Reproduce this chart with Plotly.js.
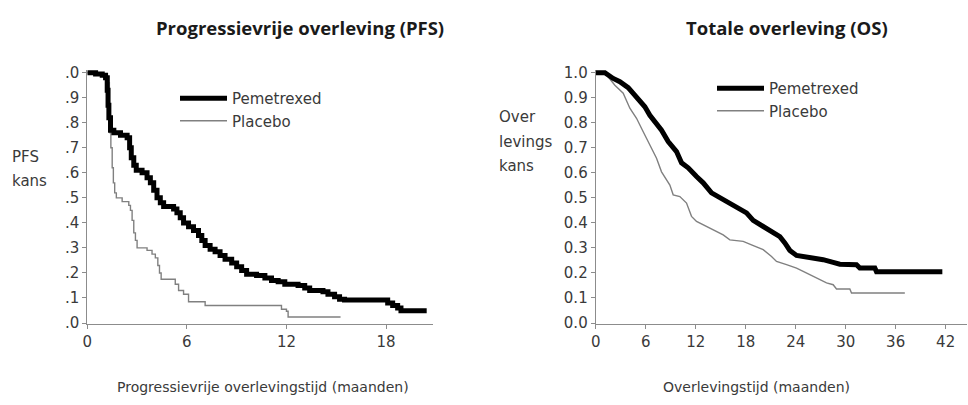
<!DOCTYPE html>
<html>
<head>
<meta charset="utf-8">
<script src="https://cdn.plot.ly/plotly-3.0.1.min.js"></script>
<style>html,body{margin:0;padding:0;background:#fff;}#chart{width:968px;height:405px;}</style>
</head>
<body>
<div id="chart"></div>
<script>
// ---- Data ----
const seriesNames = ["Pemetrexed", "Placebo"];

// Progression-free survival (months, probability) – step points
const pfsTimePem = [0, 0.5, 0.9, 1.1, 1.2, 1.25, 1.3, 1.4, 1.6, 2.0, 2.4, 2.55, 2.65, 2.8, 2.95, 3.3, 3.6, 3.8, 4.0, 4.2, 4.4, 4.6, 5.2, 5.4, 5.6, 5.8, 6.1, 6.4, 6.7, 6.9, 7.1, 7.4, 7.7, 8.0, 8.3, 8.7, 9.0, 9.3, 9.6, 10.2, 10.7, 11.1, 11.5, 11.9, 12.7, 13.1, 13.4, 14.2, 14.5, 14.9, 15.2, 15.5, 18.1, 18.4, 18.7, 18.9, 20.45];
const pfsProbPem = [1.0, 0.995, 0.99, 0.98, 0.93, 0.87, 0.82, 0.77, 0.76, 0.75, 0.74, 0.70, 0.66, 0.63, 0.61, 0.60, 0.58, 0.56, 0.53, 0.50, 0.48, 0.465, 0.455, 0.44, 0.42, 0.40, 0.385, 0.37, 0.35, 0.33, 0.31, 0.295, 0.285, 0.27, 0.255, 0.24, 0.225, 0.21, 0.195, 0.19, 0.18, 0.17, 0.165, 0.155, 0.15, 0.14, 0.13, 0.125, 0.115, 0.105, 0.095, 0.092, 0.08, 0.07, 0.06, 0.049, 0.049];

const pfsTimePla = [0, 0.6, 1.0, 1.3, 1.33, 1.37, 1.42, 1.5, 1.57, 1.65, 1.75, 2.1, 2.5, 2.6, 2.7, 2.8, 2.9, 3.0, 3.6, 3.9, 4.1, 4.25, 4.35, 4.45, 5.3, 5.5, 5.8, 6.1, 7.1, 11.7, 12.0, 12.1, 15.26];
const pfsProbPla = [1.0, 0.995, 0.985, 0.96, 0.85, 0.76, 0.70, 0.62, 0.56, 0.52, 0.50, 0.485, 0.47, 0.45, 0.41, 0.36, 0.33, 0.30, 0.29, 0.275, 0.26, 0.23, 0.20, 0.175, 0.155, 0.13, 0.115, 0.085, 0.07, 0.055, 0.047, 0.024, 0.024];

// Overall survival (months, probability)
const osTimePem = [0, 1.1, 2.1, 2.9, 3.9, 4.9, 5.9, 6.5, 7.3, 7.9, 8.7, 9.7, 10.3, 11.1, 12.1, 12.9, 13.9, 14.9, 16.1, 17.1, 18.1, 18.9, 19.9, 20.9, 22.1, 22.7, 23.3, 24.1, 25.1, 26.1, 27.3, 28.5, 29.3, 31.3, 31.7, 33.5, 33.7, 41.6];
const osProbPem = [1.0, 1.0, 0.977, 0.964, 0.94, 0.90, 0.864, 0.83, 0.80, 0.77, 0.725, 0.685, 0.64, 0.62, 0.585, 0.56, 0.52, 0.50, 0.48, 0.46, 0.44, 0.41, 0.39, 0.37, 0.345, 0.32, 0.29, 0.27, 0.266, 0.26, 0.253, 0.242, 0.235, 0.233, 0.22, 0.22, 0.205, 0.205];

const osTimePla = [0, 1.1, 2.3, 3.3, 4.1, 4.9, 5.7, 6.5, 7.3, 7.9, 8.9, 9.3, 10.1, 10.9, 11.5, 12.1, 13.3, 14.1, 15.3, 16.1, 17.7, 18.7, 20.1, 21.1, 21.7, 22.9, 24.1, 24.9, 26.1, 26.9, 27.7, 28.5, 28.9, 30.5, 30.7, 37.1];
const osProbPla = [1.0, 1.0, 0.95, 0.918, 0.858, 0.818, 0.764, 0.711, 0.658, 0.604, 0.551, 0.512, 0.505, 0.479, 0.426, 0.406, 0.386, 0.372, 0.352, 0.332, 0.326, 0.312, 0.293, 0.266, 0.246, 0.233, 0.219, 0.206, 0.186, 0.173, 0.16, 0.153, 0.136, 0.136, 0.12, 0.12];

const xTicksPFS = [0, 6, 12, 18];
const xTicksOS = [0, 6, 12, 18, 24, 30, 36, 42];
const yTicks = [0, 0.1, 0.2, 0.3, 0.4, 0.5, 0.6, 0.7, 0.8, 0.9, 1.0];
const yTickTextPFS = [".0", ".1", ".2", ".3", ".4", ".5", ".6", ".7", ".8", ".9", ".0"];
const yTickTextOS = ["0.0", "0.1", "0.2", "0.3", "0.4", "0.5", "0.6", "0.7", "0.8", "0.9", "1.0"];

const chartTitles = ["Progressievrije overleving (PFS)", "Totale overleving (OS)"];
const xTitles = ["Progressievrije overlevingstijd (maanden)", "Overlevingstijd (maanden)"];
const yTitlePFS = ["PFS", "kans"];
const yTitleOS = ["Over", "levings", "kans"];

// ---- Styling ----
const W = 968, H = 405;
const txtFont = "DejaVu Sans, Arial, sans-serif";
const txtCol = "#3a3a3a";
const axCol = "#8c8c8c";
const thick = {color: "#000000", width: 5};
const thin = {color: "#808080", width: 1.4};

const traces = [
  {x: pfsTimePem, y: pfsProbPem, name: seriesNames[0], mode: "lines", line: Object.assign({shape: "hv"}, thick), xaxis: "x", yaxis: "y", legend: "legend", legendgroup: "a", legendrank: 1},
  {x: pfsTimePla, y: pfsProbPla, name: seriesNames[1], mode: "lines", line: Object.assign({shape: "hv"}, thin), xaxis: "x", yaxis: "y", legend: "legend", legendgroup: "b", legendrank: 2},
  {x: osTimePem, y: osProbPem, name: seriesNames[0], mode: "lines", line: Object.assign({shape: "linear"}, thick), xaxis: "x2", yaxis: "y2", legend: "legend2", legendgroup: "c", legendrank: 1},
  {x: osTimePla, y: osProbPla, name: seriesNames[1], mode: "lines", line: Object.assign({shape: "linear"}, thin), xaxis: "x2", yaxis: "y2", legend: "legend2", legendgroup: "d", legendrank: 2}
];
// draw placebo beneath pemetrexed
const ordered = [traces[1], traces[0], traces[3], traces[2]];

const yDomain = [0.2, 0.8279];
const axisCommon = {
  showline: true, linecolor: axCol, linewidth: 1,
  ticks: "outside", ticklen: 4, tickcolor: axCol, tickwidth: 1,
  showgrid: false, zeroline: false,
  tickfont: {family: txtFont, size: 15, color: txtCol},
  fixedrange: true
};

function px2x(p) { return p / W; }
function py2y(p) { return 1 - p / H; }

const annotations = [];
function addText(text, xpx, ypx, opts) {
  annotations.push(Object.assign({
    text: text, xref: "paper", yref: "paper", x: px2x(xpx), y: py2y(ypx),
    xanchor: "center", yanchor: "middle", showarrow: false,
    font: {family: txtFont, size: 14, color: txtCol}
  }, opts || {}));
}
const titleFont = {family: "Open Sans, Liberation Sans, sans-serif", size: 18.5, color: "#1a1a1a"};
addText("<b>" + chartTitles[0] + "</b>", 300, 28, {font: titleFont});
addText("<b>" + chartTitles[1] + "</b>", 787, 28, {font: titleFont});
addText(xTitles[0], 263, 387, {font: {family: txtFont, size: 14, color: txtCol}});
addText(xTitles[1], 756, 387, {font: {family: txtFont, size: 14, color: txtCol}});
yTitlePFS.forEach((t, i) => addText(t, 10, 157 + i * 24, {xanchor: "left", font: {family: txtFont, size: 15, color: txtCol}}));
yTitleOS.forEach((t, i) => addText(t, 497, 117 + i * 24.5, {xanchor: "left", font: {family: txtFont, size: 15, color: txtCol}}));

const legendCommon = {
  xanchor: "left", yanchor: "top", bgcolor: "rgba(0,0,0,0)", borderwidth: 0,
  font: {family: txtFont, size: 15, color: txtCol},
  itemwidth: 47, tracegroupgap: 5, traceorder: "normal"
};

const layout = {
  width: W, height: H,
  margin: {l: 0, r: 0, t: 0, b: 0},
  paper_bgcolor: "#ffffff", plot_bgcolor: "#ffffff",
  showlegend: true,
  legend: Object.assign({x: px2x(175), y: py2y(82)}, legendCommon),
  legend2: Object.assign({x: px2x(712), y: py2y(72)}, legendCommon),
  xaxis: Object.assign({}, axisCommon, {domain: [px2x(87.3), px2x(433)], range: [0, 20.83], tickvals: xTicksPFS, anchor: "y"}),
  yaxis: Object.assign({}, axisCommon, {domain: yDomain, range: [-0.004, 1.012], tickvals: yTicks, ticktext: yTickTextPFS, anchor: "x"}),
  xaxis2: Object.assign({}, axisCommon, {domain: [px2x(595.7), px2x(967)], range: [0, 44.56], tickvals: xTicksOS, anchor: "y2"}),
  yaxis2: Object.assign({}, axisCommon, {domain: yDomain, range: [-0.004, 1.012], tickvals: yTicks, ticktext: yTickTextOS, anchor: "x2"}),
  annotations: annotations
};

Plotly.newPlot("chart", ordered, layout, {displayModeBar: false, staticPlot: true});
</script>
</body>
</html>
